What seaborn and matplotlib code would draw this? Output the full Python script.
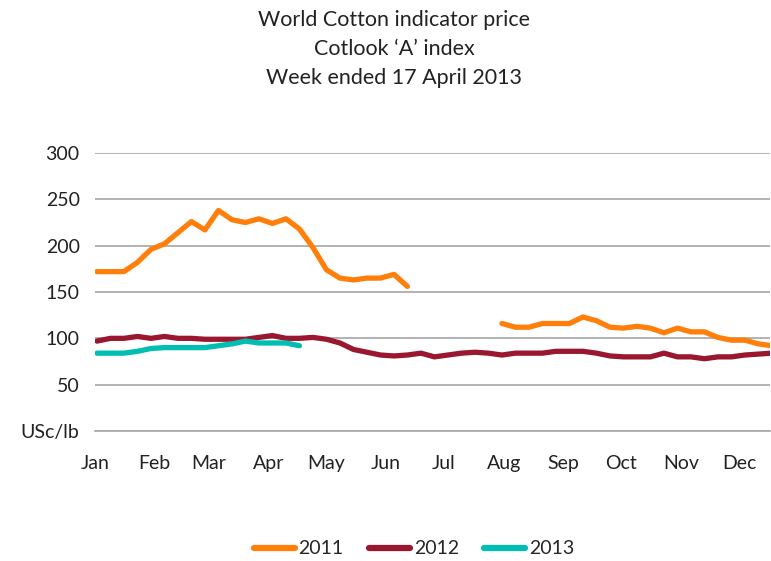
import numpy as np
import pandas as pd
import seaborn as sns
import matplotlib.pyplot as plt
from matplotlib.lines import Line2D

# weekly observations, x = day of year
days_2011_a = [1, 8, 15, 22, 29, 36, 43, 50, 57, 64, 71, 78, 85, 92, 99, 106,
               113, 120, 127, 134, 141, 148, 155, 162]
price_2011_a = [172, 172, 172, 182, 196, 202, 214, 226, 217, 238, 228, 225, 229, 224, 229, 218,
                198, 174, 165, 163, 165, 165, 169, 156]
days_2011_b = [211, 218, 225, 232, 239, 246, 253, 260, 267, 274, 281, 288, 295, 302, 309, 316,
               323, 330, 337, 344, 351]
price_2011_b = [116, 112, 112, 116, 116, 116, 123, 119, 112, 111, 113, 111, 106, 111, 107, 107,
                101, 98, 98, 94, 92]
days_2012 = list(range(1, 352, 7))
price_2012 = [97, 100, 100, 102, 100, 102, 100, 100, 99, 99, 99, 99, 101, 103, 100, 100,
              101, 99, 95, 88, 85, 82, 81, 82, 84, 80, 82, 84, 85, 84, 82, 84,
              84, 84, 86, 86, 86, 84, 81, 80, 80, 80, 84, 80, 80, 78, 80, 80,
              82, 83, 84]
days_2013 = list(range(1, 107, 7))
price_2013 = [84, 84, 84, 86, 89, 90, 90, 90, 90, 92, 94, 97, 95, 95, 95, 92]

month_starts = [0, 31, 59, 90, 120, 151, 181, 212, 243, 273, 304, 334]
month_labels = ["Jan", "Feb", "Mar", "Apr", "May", "Jun", "Jul", "Aug", "Sep", "Oct", "Nov", "Dec"]
y_ticks = [0, 50, 100, 150, 200, 250, 300]
y_labels = ["USc/lb", "50", "100", "150", "200", "250", "300"]

df = pd.concat([
    pd.DataFrame({"day": days_2011_a, "price": price_2011_a, "year": "2011", "seg": "a"}),
    pd.DataFrame({"day": days_2011_b, "price": price_2011_b, "year": "2011", "seg": "b"}),
    pd.DataFrame({"day": days_2012, "price": price_2012, "year": "2012", "seg": "a"}),
    pd.DataFrame({"day": days_2013, "price": price_2013, "year": "2013", "seg": "a"}),
], ignore_index=True)

colors = {"2011": "#FF7F0A", "2012": "#9A1730", "2013": "#00BFB0"}

sns.set_style("white")
plt.rcParams["font.family"] = ["Lato", "DejaVu Sans"]

fig = plt.figure(figsize=(7.71, 5.61), dpi=100)
ax = fig.add_axes([95 / 771, 1 - 431 / 561, 675 / 771, 278 / 561])

sns.lineplot(data=df, x="day", y="price", hue="year", units="seg", estimator=None,
             palette=colors, linewidth=3.8, legend=False, ax=ax,
             solid_capstyle="round", solid_joinstyle="round")

ax.set_xlim(0, 350)
ax.set_ylim(0, 300)
ax.set_yticks(y_ticks)
ax.set_yticklabels(y_labels)
ax.set_xticks(month_starts)
ax.set_xticklabels(month_labels)
ax.set_xlabel("")
ax.set_ylabel("")
ax.yaxis.grid(True, color="#A6A6A6", linewidth=1.2)
ax.set_axisbelow(True)
for s in ["left", "right", "top"]:
    ax.spines[s].set_visible(False)
ax.spines["bottom"].set_color("#A6A6A6")
ax.spines["bottom"].set_linewidth(1.2)
ax.tick_params(axis="x", direction="out", length=6, width=1.2, color="#A6A6A6",
               pad=11, labelsize=14, labelcolor="#222222")
ax.tick_params(axis="y", length=0, pad=11, labelsize=14, labelcolor="#222222")

title_lines = ["World Cotton indicator price", "Cotlook \u2018A\u2019 index", "Week ended 17 April 2013"]
for line, ypx in zip(title_lines, [20, 49, 78]):
    fig.text(394 / 771, 1 - ypx / 561, line, ha="center", va="center",
             fontsize=15.5, color="#222222")

handles = [Line2D([0], [0], color=colors[y], linewidth=4.5, solid_capstyle="round") for y in colors]
fig.legend(handles, list(colors), loc="center", bbox_to_anchor=(414 / 771, 1 - 549 / 561),
           ncol=3, frameon=False, fontsize=14, handlelength=2.1, handletextpad=0.2,
           columnspacing=1.3)

fig.savefig("out.png", dpi=100)
